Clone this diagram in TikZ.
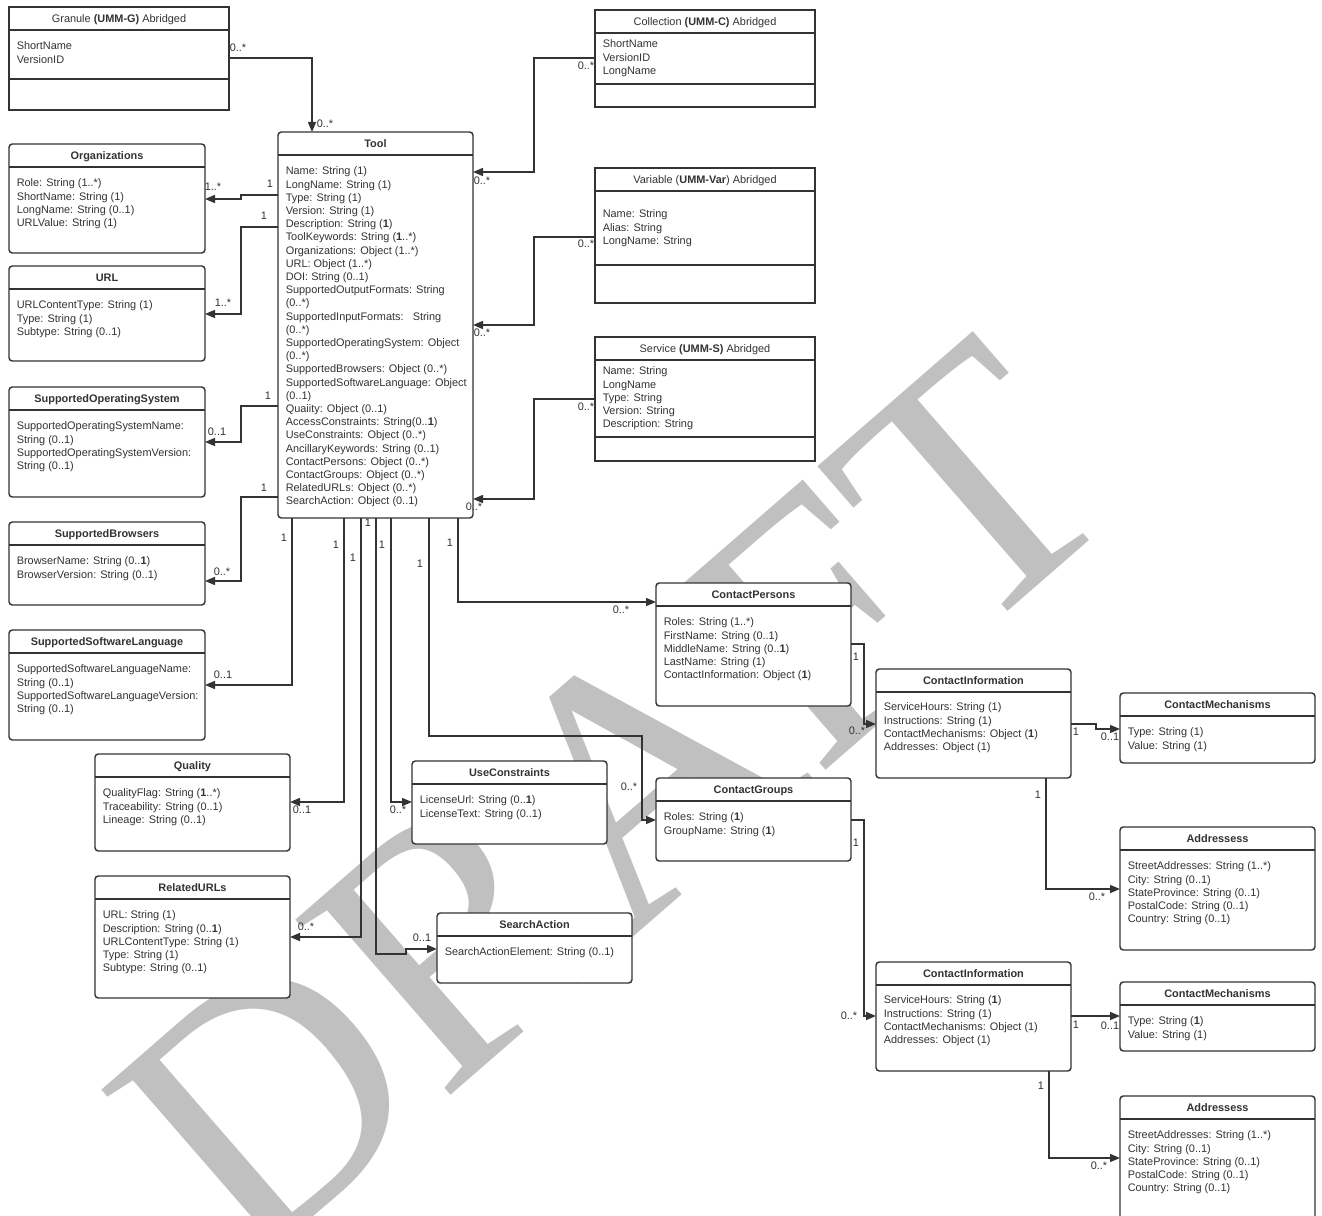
\documentclass[tikz,border=0pt]{standalone}
\usepackage{fontspec}
\setmainfont{Liberation Sans}
\newfontfamily\draftfont{Liberation Serif}
\usetikzlibrary{arrows.meta}
\definecolor{umlink}{HTML}{333333}
\definecolor{draftgray}{HTML}{C0C0C0}
\newcommand\umlfont{\fontsize{8.2}{9.9}\selectfont}
\newcommand\umlclass[9][rounded corners=2.5pt]{%
  \node[umlbox,#1,minimum width={(#5-#3)*0.75pt},minimum height={(#6-#4)*0.75pt}] (#2) at (#3,#4) {};
  \draw[umlline] (#3,#4+23) -- (#5,#4+23);
  \node[umltitle] (#2-title) at ({(#3+#5)/2},#4+15.5) {#7};
  \node[umlbody] (#2-body) at (#3+7.5,#4+23+#8-5.7) {\strut#9};
}
\begin{document}
\begin{tikzpicture}[x=0.75pt,y=-0.75pt,
  umlbox/.style={draw=umlink,line width=1.1pt,fill=white,anchor=north west,inner sep=0pt,outer sep=0pt},
  umlline/.style={draw=umlink,line width=1.1pt},
  umltitle/.style={anchor=base,inner sep=0pt,font=\umlfont,text=umlink},
  umlbody/.style={anchor=north west,align=left,inner sep=0pt,font=\umlfont,text=umlink},
  assoc/.style={draw=umlink,line width=1.1pt,-{Triangle[length=7.5pt,width=6pt]}},
  mult/.style={inner sep=0pt,font=\umlfont,text=umlink}]
  \path[use as bounding box,clip] (0,0) rectangle (1322,1216);
  \fill[white] (0,0) rectangle (1322,1216);
  \node[text=draftgray,font=\draftfont\fontsize{268}{268}\selectfont,rotate=41,inner sep=0pt] (draft) at (612,800) {DRAFT};

  \umlclass[sharp corners]{gran}{9}{7}{229}{110}{Granule \textbf{(UMM-G)} Abridged}{16}{ShortName\\VersionID}
  \draw[umlline] (gran.west |- 0,79) -- (gran.east |- 0,79);
  \umlclass[sharp corners]{coll}{595}{10}{815}{107}{Collection \textbf{(UMM-C)} Abridged}{11}{ShortName\\VersionID\\LongName}
  \draw[umlline] (coll.west |- 0,84) -- (coll.east |- 0,84);
  \umlclass[sharp corners]{var}{595}{168}{815}{303}{Variable (\textbf{UMM-Var}) Abridged}{23}{Name: String\\Alias: String\\LongName: String}
  \draw[umlline] (var.west |- 0,265) -- (var.east |- 0,265);
  \umlclass[sharp corners]{serv}{595}{337}{815}{461}{Service \textbf{(UMM-S)} Abridged}{11}{Name: String\\LongName\\Type: String\\Version: String\\Description: String}
  \draw[umlline] (serv.west |- 0,437) -- (serv.east |- 0,437);

  \umlclass{tool}{278}{132}{473}{518}{\textbf{Tool}}{16}{Name: String (1)\\LongName: String (1)\\Type: String (1)\\Version: String (1)\\Description: String (\textbf{1})\\ToolKeywords: String (\textbf{1}..*)\\Organizations: Object (1..*)\\URL: Object (1..*)\\DOI: String (0..1)\\SupportedOutputFormats: String\\(0..*)\\SupportedInputFormats:\ \ \ String\\(0..*)\\SupportedOperatingSystem: Object\\(0..*)\\SupportedBrowsers: Object (0..*)\\SupportedSoftwareLanguage: Object\\(0..1)\\Quaiity: Object (0..1)\\AccessConstraints: String(0..\textbf{1})\\UseConstraints: Object (0..*)\\AncillaryKeywords: String (0..1)\\ContactPersons: Object (0..*)\\ContactGroups: Object (0..*)\\RelatedURLs: Object (0..*)\\SearchAction: Object (0..1)}

  \umlclass{org}{9}{144}{205}{253}{\textbf{Organizations}}{16}{Role: String (1..*)\\ShortName: String (1)\\LongName: String (0..1)\\URLValue: String (1)}
  \umlclass{url}{9}{266}{205}{361}{\textbf{URL}}{16}{URLContentType: String (1)\\Type: String (1)\\Subtype: String (0..1)}
  \umlclass{sos}{9}{387}{205}{497}{\textbf{SupportedOperatingSystem}}{16}{SupportedOperatingSystemName:\\String (0..1)\\SupportedOperatingSystemVersion:\\String (0..1)}
  \umlclass{sb}{9}{522}{205}{605}{\textbf{SupportedBrowsers}}{16}{BrowserName: String (0..\textbf{1})\\BrowserVersion: String (0..1)}
  \umlclass{ssl}{9}{630}{205}{740}{\textbf{SupportedSoftwareLanguage}}{16}{SupportedSoftwareLanguageName:\\String (0..1)\\SupportedSoftwareLanguageVersion:\\String (0..1)}
  \umlclass{qual}{95}{754}{290}{851}{\textbf{Quality}}{16}{QualityFlag: String (\textbf{1}..*)\\Traceability: String (0..1)\\Lineage: String (0..1)}
  \umlclass{rel}{95}{876}{290}{998}{\textbf{RelatedURLs}}{16}{URL: String (1)\\Description: String (0..\textbf{1})\\URLContentType: String (1)\\Type: String (1)\\Subtype: String (0..1)}
  \umlclass{uc}{412}{761}{607}{844}{\textbf{UseConstraints}}{16}{LicenseUrl: String (0..\textbf{1})\\LicenseText: String (0..1)}
  \umlclass{sa}{437}{913}{632}{983}{\textbf{SearchAction}}{16}{SearchActionElement: String (0..1)}
  \umlclass{cp}{656}{583}{851}{706}{\textbf{ContactPersons}}{16}{Roles: String (1..*)\\FirstName: String (0..1)\\MiddleName: String (0..\textbf{1})\\LastName: String (1)\\ContactInformation: Object (\textbf{1})}
  \umlclass{cg}{656}{778}{851}{861}{\textbf{ContactGroups}}{16}{Roles: String (\textbf{1})\\GroupName: String (\textbf{1})}
  \umlclass{ci1}{876}{669}{1071}{778}{\textbf{ContactInformation}}{15}{ServiceHours: String (1)\\Instructions: String (1)\\ContactMechanisms: Object (\textbf{1})\\Addresses: Object (1)}
  \umlclass{cm1}{1120}{693}{1315}{763}{\textbf{ContactMechanisms}}{16}{Type: String (1)\\Value: String (1)}
  \umlclass{ad1}{1120}{827}{1315}{950}{\textbf{Addressess}}{16}{StreetAddresses: String (1..*)\\City: String (0..1)\\StateProvince: String (0..1)\\PostalCode: String (0..1)\\Country: String (0..1)}
  \umlclass{ci2}{876}{962}{1071}{1071}{\textbf{ContactInformation}}{15}{ServiceHours: String (\textbf{1})\\Instructions: String (1)\\ContactMechanisms: Object (1)\\Addresses: Object (1)}
  \umlclass{cm2}{1120}{982}{1315}{1051}{\textbf{ContactMechanisms}}{16}{Type: String (\textbf{1})\\Value: String (1)}
  \umlclass{ad2}{1120}{1096}{1315}{1228}{\textbf{Addressess}}{16}{StreetAddresses: String (1..*)\\City: String (0..1)\\StateProvince: String (0..1)\\PostalCode: String (0..1)\\Country: String (0..1)}

  \draw[assoc] (gran.east |- 0,58) -| (tool.north -| 312,0)
    node[mult] (gran-m1) at (238,48) {0..*} node[mult] (gran-m2) at (325,124) {0..*};
  \draw[assoc] (coll.west |- 0,58) -| (534,172) -- (tool.east |- 0,172)
    node[mult] (coll-m1) at (586,66) {0..*} node[mult] (coll-m2) at (482,181) {0..*};
  \draw[assoc] (var.west |- 0,237) -| (534,325) -- (tool.east |- 0,325)
    node[mult] (var-m1) at (586,244) {0..*} node[mult] (var-m2) at (482,333) {0..*};
  \draw[assoc] (serv.west |- 0,399) -| (534,499) -- (tool.east |- 0,499)
    node[mult] (serv-m1) at (586,407) {0..*} node[mult] (serv-m2) at (474,507) {0..*};

  \draw[assoc] (tool.west |- 0,195) -| (241,199) -- (org.east |- 0,199)
    node[mult] (org-m1) at (270,184) {1} node[mult] (org-m2) at (213,187) {1..*};
  \draw[assoc] (tool.west |- 0,227) -| (241,314) -- (url.east |- 0,314)
    node[mult] (url-m1) at (264,216) {1} node[mult] (url-m2) at (223,303) {1..*};
  \draw[assoc] (tool.west |- 0,406) -| (241,442) -- (sos.east |- 0,442)
    node[mult] (sos-m1) at (268,396) {1} node[mult] (sos-m2) at (217,432) {0..1};
  \draw[assoc] (tool.west |- 0,497) -| (241,581) -- (sb.east |- 0,581)
    node[mult] (sb-m1) at (264,488) {1} node[mult] (sb-m2) at (222,572) {0..*};
  \draw[assoc] (tool.south -| 292,0) |- (ssl.east |- 0,685)
    node[mult] (ssl-m1) at (284,538) {1} node[mult] (ssl-m2) at (223,675) {0..1};
  \draw[assoc] (tool.south -| 344,0) |- (qual.east |- 0,802)
    node[mult] (qual-m1) at (336,545) {1} node[mult] (qual-m2) at (302,810) {0..1};
  \draw[assoc] (tool.south -| 361,0) |- (rel.east |- 0,937)
    node[mult] (rel-m1) at (353,558) {1} node[mult] (rel-m2) at (306,927) {0..*};
  \draw[assoc] (tool.south -| 376,0) |- (406,954) |- (sa.west |- 0,949)
    node[mult] (sa-m1) at (368,523) {1} node[mult] (sa-m2) at (422,938) {0..1};
  \draw[assoc] (tool.south -| 391,0) |- (uc.west |- 0,802)
    node[mult] (uc-m1) at (382,545) {1} node[mult] (uc-m2) at (398,810) {0..*};
  \draw[assoc] (tool.south -| 429,0) |- (642,736) |- (cg.west |- 0,820)
    node[mult] (cg-m1) at (420,564) {1} node[mult] (cg-m2) at (629,787) {0..*};
  \draw[assoc] (tool.south -| 458,0) |- (cp.west |- 0,602)
    node[mult] (cp-m1) at (450,543) {1} node[mult] (cp-m2) at (621,610) {0..*};

  \draw[assoc] (cp.east |- 0,644) -| (864,724) -- (ci1.west |- 0,724)
    node[mult] (ci1-m1) at (856,657) {1} node[mult] (ci1-m2) at (857,731) {0..*};
  \draw[assoc] (cg.east |- 0,820) -| (864,1016) -- (ci2.west |- 0,1016)
    node[mult] (ci2-m1) at (856,843) {1} node[mult] (ci2-m2) at (849,1016) {0..*};
  \draw[assoc] (ci1.east |- 0,724) -| (1096,729) -- (cm1.west |- 0,729)
    node[mult] (cm1-m1) at (1076,732) {1} node[mult] (cm1-m2) at (1110,737) {0..1};
  \draw[assoc] (ci1.south -| 1046,0) |- (ad1.west |- 0,889)
    node[mult] (ad1-m1) at (1038,795) {1} node[mult] (ad1-m2) at (1097,897) {0..*};
  \draw[assoc] (ci2.east |- 0,1016) -- (cm2.west |- 0,1016)
    node[mult] (cm2-m1) at (1076,1025) {1} node[mult] (cm2-m2) at (1110,1026) {0..1};
  \draw[assoc] (ci2.south -| 1049,0) |- (ad2.west |- 0,1158)
    node[mult] (ad2-m1) at (1041,1086) {1} node[mult] (ad2-m2) at (1099,1166) {0..*};
\end{tikzpicture}
\end{document}
